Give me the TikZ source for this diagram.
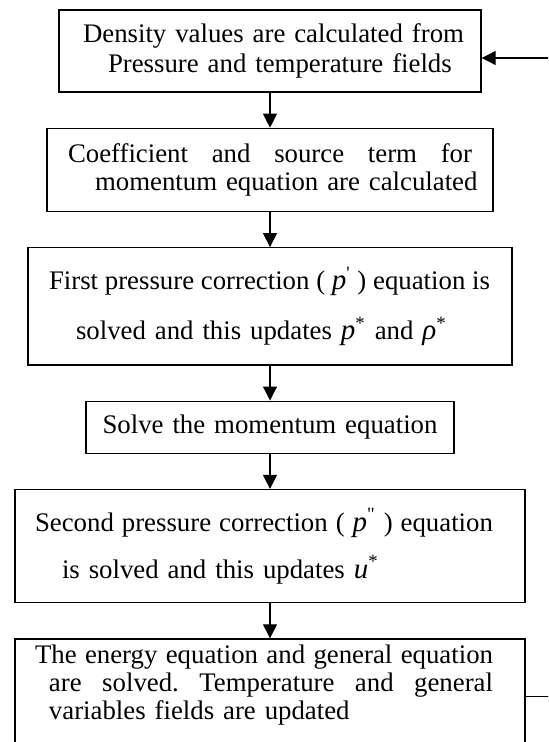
\documentclass[tikz,border=0pt]{standalone}
\usepackage{fontspec}
\setmainfont{Liberation Serif}
\usetikzlibrary{arrows.meta, positioning}

\newcommand{\spread}[2]{\makebox[#1]{#2}}
\newcommand{\mvar}[1]{{\fontsize{14.5pt}{14pt}\selectfont\itshape #1}}

\begin{document}
\begin{tikzpicture}[
    node distance=17.5pt,
    stepbox/.style={draw, line width=0.7pt, inner xsep=0pt, inner ysep=2pt,
                    font=\fontsize{13.4pt}{14pt}\selectfont},
    arr/.style={line width=0.6pt, -{Triangle[length=7pt, width=7pt]}}
  ]
  \path[use as bounding box, clip] (0,0) rectangle (274pt,-371pt);
  \node[stepbox, text width=211pt, minimum height=41pt, align=left] (dens) at (135pt,-25.5pt)
    {\hspace*{12pt}Density values are calculated from\\[1pt]
     \hspace*{24.5pt}Pressure and temperature fields};
  \node[stepbox, below=of dens, text width=223pt, minimum height=41.5pt, align=left] (coef)
    {\hspace*{10.5pt}\spread{202pt}{Coefficient\hfill and\hfill source\hfill term\hfill for}\\
     \hspace*{24pt}momentum equation are calculated};
  \node[stepbox, below=of coef, text width=242pt, minimum height=58.5pt, align=left] (pone)
    {\hspace*{10.5pt}\spread{220.5pt}{First\hfill pressure\hfill correction\hfill (\hfill\mvar{p}\textsuperscript{\textquotesingle}\hfill)\hfill equation\hfill is}\\[9.5pt]
     \hspace*{24pt}solved and this updates \mvar{p}\textsuperscript{*} and \mvar{ρ}\textsuperscript{*}};
  \node[stepbox, below=of pone, text width=184pt, minimum height=26pt, align=center] (mom)
    {Solve the momentum equation};
  \node[stepbox, below=of mom, text width=255pt, minimum height=56.5pt, align=left] (ptwo)
    {\hspace*{10pt}\spread{229pt}{Second\hfill pressure\hfill correction\hfill (\hfill\mvar{p}\textsuperscript{\textquotedbl}\hfill)\hfill equation}\\[8pt]
     \hspace*{23.5pt}is solved and this updates \mvar{u}\textsuperscript{*}};
  \node[stepbox, below=of ptwo, text width=255pt, inner ysep=3pt, text depth=45pt, align=left] (energy)
    {\hspace*{10pt}\spread{229pt}{The\hfill energy\hfill equation\hfill and\hfill general\hfill equation}\\
     \hspace*{17pt}\spread{222pt}{are\hfill solved.\hfill Temperature\hfill and\hfill general}\\
     \hspace*{17pt}variables fields are updated};
  \draw[arr] (dens) -- (coef);
  \draw[arr] (coef) -- (pone);
  \draw[arr] (pone) -- (mom);
  \draw[arr] (mom) -- (ptwo);
  \draw[arr] (ptwo) -- (energy);
  \draw[arr] ([yshift=-29pt]energy.north east) -- ++(30pt,0) |- ([yshift=-3.5pt]dens.east);
\end{tikzpicture}
\end{document}
